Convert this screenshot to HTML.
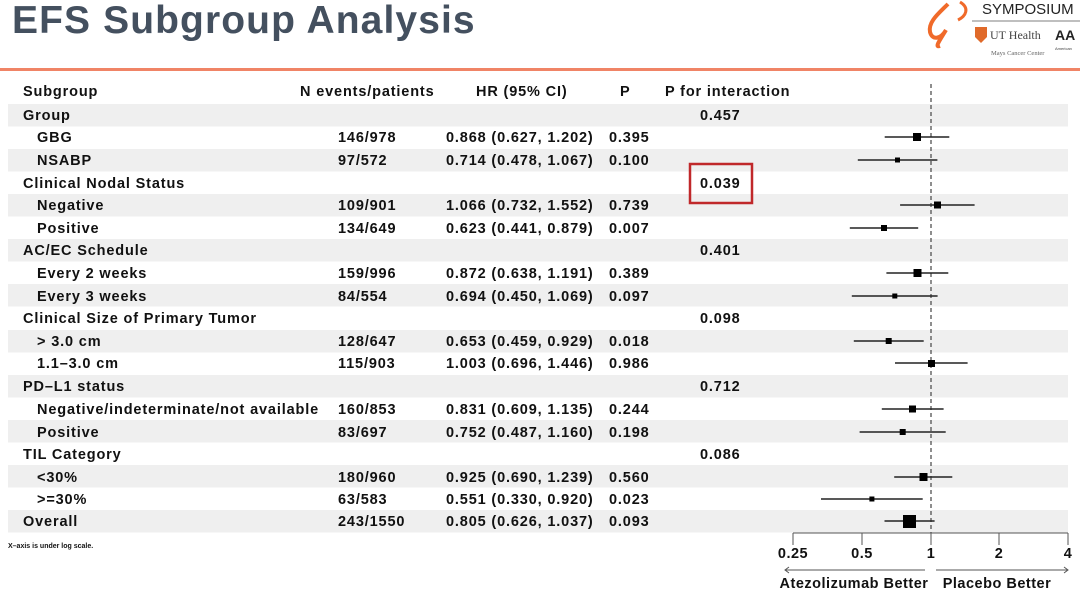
<!DOCTYPE html>
<html><head><meta charset="utf-8"><style>
body{margin:0;background:#fff;}
svg{display:block;font-family:"Liberation Sans",Arial,sans-serif;}
.t{font-size:14.5px;font-weight:bold;fill:#111;letter-spacing:0.85px;}
</style></head><body>
<svg width="1080" height="596" viewBox="0 0 1080 596">
<text x="12" y="33" font-size="39" font-weight="bold" fill="#44505f" letter-spacing="1.1">EFS Subgroup Analysis</text>
<!-- logo -->
<path d="M948 4 C938 14 928 22 930 32 C932 40 940 40 946 30 C940 40 934 48 940 46" stroke="#f06a2a" stroke-width="4" fill="none"/>
<path d="M960 2 C970 8 966 16 958 20" stroke="#f06a2a" stroke-width="3" fill="none"/>
<text x="982" y="14" font-size="15" fill="#222">SYMPOSIUM</text>
<line x1="972" y1="21" x2="1080" y2="21" stroke="#555" stroke-width="0.8"/>
<path d="M975 27 h12 v10 l-6 6 l-6 -6z" fill="#e06a2a"/>
<text x="990" y="39" font-family="Liberation Serif" font-size="12" fill="#444">UT Health</text>
<text x="991" y="55" font-family="Liberation Serif" font-size="6.5" fill="#666">Mays Cancer Center</text>
<text x="1055" y="40" font-size="14" font-weight="bold" fill="#222">AA</text>
<text x="1055" y="50" font-size="4" fill="#444">American</text>
<rect x="0" y="68" width="1080" height="3" fill="#f08466"/>
<!-- bands -->
<g fill="#efefef">
<rect x="8" y="104" width="1060" height="22.5"/>
<rect x="8" y="149" width="1060" height="22.5"/>
<rect x="8" y="194" width="1060" height="22.5"/>
<rect x="8" y="239" width="1060" height="22.5"/>
<rect x="8" y="284" width="1060" height="22.5"/>
<rect x="8" y="330" width="1060" height="22.5"/>
<rect x="8" y="375" width="1060" height="22.5"/>
<rect x="8" y="420" width="1060" height="22.5"/>
<rect x="8" y="465" width="1060" height="22.5"/>
<rect x="8" y="510" width="1060" height="22.5"/>
</g>
<g class="t">
<text x="23" y="96">Subgroup</text><text x="300" y="96">N events/patients</text><text x="476" y="96">HR (95% CI)</text><text x="620" y="96">P</text><text x="665" y="96">P for interaction</text>
<text x="23" y="120">Group</text><text x="700" y="120">0.457</text>
<text x="37" y="142">GBG</text><text x="338" y="142">146/978</text><text x="446" y="142">0.868 (0.627, 1.202)</text><text x="609" y="142">0.395</text>
<text x="37" y="165">NSABP</text><text x="338" y="165">97/572</text><text x="446" y="165">0.714 (0.478, 1.067)</text><text x="609" y="165">0.100</text>
<text x="23" y="188">Clinical Nodal Status</text><text x="700" y="188">0.039</text>
<text x="37" y="210">Negative</text><text x="338" y="210">109/901</text><text x="446" y="210">1.066 (0.732, 1.552)</text><text x="609" y="210">0.739</text>
<text x="37" y="233">Positive</text><text x="338" y="233">134/649</text><text x="446" y="233">0.623 (0.441, 0.879)</text><text x="609" y="233">0.007</text>
<text x="23" y="255">AC/EC Schedule</text><text x="700" y="255">0.401</text>
<text x="37" y="278">Every 2 weeks</text><text x="338" y="278">159/996</text><text x="446" y="278">0.872 (0.638, 1.191)</text><text x="609" y="278">0.389</text>
<text x="37" y="301">Every 3 weeks</text><text x="338" y="301">84/554</text><text x="446" y="301">0.694 (0.450, 1.069)</text><text x="609" y="301">0.097</text>
<text x="23" y="323">Clinical Size of Primary Tumor</text><text x="700" y="323">0.098</text>
<text x="37" y="346">&gt; 3.0 cm</text><text x="338" y="346">128/647</text><text x="446" y="346">0.653 (0.459, 0.929)</text><text x="609" y="346">0.018</text>
<text x="37" y="368">1.1–3.0 cm</text><text x="338" y="368">115/903</text><text x="446" y="368">1.003 (0.696, 1.446)</text><text x="609" y="368">0.986</text>
<text x="23" y="391">PD–L1 status</text><text x="700" y="391">0.712</text>
<text x="37" y="414">Negative/indeterminate/not available</text><text x="338" y="414">160/853</text><text x="446" y="414">0.831 (0.609, 1.135)</text><text x="609" y="414">0.244</text>
<text x="37" y="437">Positive</text><text x="338" y="437">83/697</text><text x="446" y="437">0.752 (0.487, 1.160)</text><text x="609" y="437">0.198</text>
<text x="23" y="459">TIL Category</text><text x="700" y="459">0.086</text>
<text x="37" y="482">&lt;30%</text><text x="338" y="482">180/960</text><text x="446" y="482">0.925 (0.690, 1.239)</text><text x="609" y="482">0.560</text>
<text x="37" y="504">&gt;=30%</text><text x="338" y="504">63/583</text><text x="446" y="504">0.551 (0.330, 0.920)</text><text x="609" y="504">0.023</text>
<text x="23" y="526">Overall</text><text x="338" y="526">243/1550</text><text x="446" y="526">0.805 (0.626, 1.037)</text><text x="609" y="526">0.093</text>
</g>
<text x="8" y="548" font-size="7" font-weight="bold" fill="#111">X–axis is under log scale.</text>
<rect x="690" y="164" width="62" height="39" fill="none" stroke="#c0282a" stroke-width="2.5"/>
<line x1="931" y1="84" x2="931" y2="533" stroke="#444" stroke-width="1.2" stroke-dasharray="4,3"/>
<g stroke="#222" stroke-width="1.5">
<line x1="884.7" y1="137" x2="949.3" y2="137"/>
<line x1="857.8" y1="160" x2="937.4" y2="160"/>
<line x1="900.1" y1="205" x2="974.6" y2="205"/>
<line x1="849.8" y1="228" x2="918.2" y2="228"/>
<line x1="886.4" y1="273" x2="948.3" y2="273"/>
<line x1="851.8" y1="296" x2="937.6" y2="296"/>
<line x1="853.8" y1="341" x2="923.7" y2="341"/>
<line x1="895" y1="363" x2="967.6" y2="363"/>
<line x1="881.8" y1="409" x2="943.6" y2="409"/>
<line x1="859.6" y1="432" x2="945.7" y2="432"/>
<line x1="894.2" y1="477" x2="952.3" y2="477"/>
<line x1="821" y1="499" x2="922.7" y2="499"/>
<line x1="884.5" y1="521" x2="934.6" y2="521"/>
</g>
<g fill="#000">
<rect x="913" y="133" width="8" height="8"/>
<rect x="895" y="157.5" width="5" height="5"/>
<rect x="934" y="201.5" width="7" height="7"/>
<rect x="881" y="225" width="6" height="6"/>
<rect x="913.5" y="269" width="8" height="8"/>
<rect x="892.3" y="293.5" width="5" height="5"/>
<rect x="885.7" y="338" width="6" height="6"/>
<rect x="928" y="360" width="7" height="7"/>
<rect x="909" y="405.5" width="7" height="7"/>
<rect x="899.7" y="429" width="6" height="6"/>
<rect x="919.5" y="473" width="8" height="8"/>
<rect x="869.4" y="496.5" width="5" height="5"/>
<rect x="903" y="515" width="13" height="13"/>
</g>
<g stroke="#555" stroke-width="1">
<line x1="793" y1="533" x2="1068" y2="533"/>
<line x1="793" y1="533" x2="793" y2="545"/>
<line x1="862" y1="533" x2="862" y2="545"/>
<line x1="931" y1="533" x2="931" y2="545"/>
<line x1="999" y1="533" x2="999" y2="545"/>
<line x1="1068" y1="533" x2="1068" y2="545"/>
<line x1="785" y1="570" x2="925" y2="570"/>
<line x1="936" y1="570" x2="1068" y2="570"/>
<path d="M789 567 l-4 3 l4 3 M1064 567 l4 3 l-4 3" fill="none"/>
</g>
<g class="t" font-size="15" text-anchor="middle" style="letter-spacing:0.5px">
<text x="793" y="558">0.25</text><text x="862" y="558">0.5</text><text x="931" y="558">1</text><text x="999" y="558">2</text><text x="1068" y="558">4</text>
<text x="854" y="588">Atezolizumab Better</text><text x="997" y="588">Placebo Better</text>
</g>
</svg>
</body></html>
